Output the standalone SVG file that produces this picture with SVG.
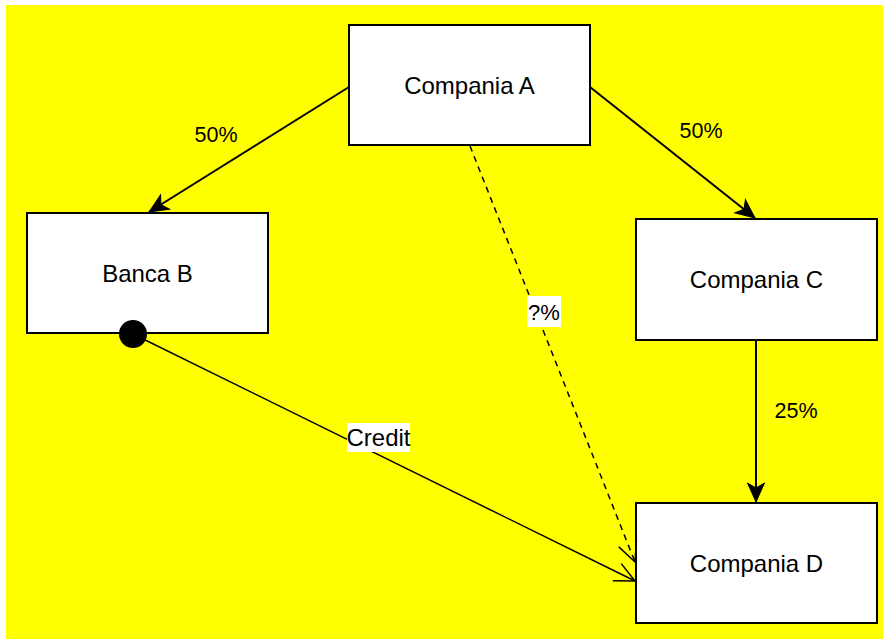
<svg xmlns="http://www.w3.org/2000/svg" width="883" height="639" viewBox="0 0 883 639">
<style>
.box{fill:#fff;stroke:#000;stroke-width:2}
.lbl{font-family:"Liberation Sans",Arial,sans-serif;font-size:24px;fill:#000;text-anchor:middle;dominant-baseline:central}
.elbl{font-family:"Liberation Sans",Arial,sans-serif;font-size:21.5px;fill:#000;text-anchor:middle;dominant-baseline:central}
.edge{fill:none;stroke:#000;stroke-width:2}
.thin{fill:none;stroke:#000;stroke-width:1.5}
</style>
<defs>
<marker id="block" markerUnits="userSpaceOnUse" viewBox="-20 -10 22 20" refX="0" refY="0" markerWidth="22" markerHeight="20" orient="auto" overflow="visible">
<path d="M0,0 L-19,-8.5 L-14,0 L-19,8.5 Z" fill="#000" stroke="#000" stroke-width="1"/>
</marker>
<marker id="open" markerUnits="userSpaceOnUse" viewBox="-24 -12 26 24" refX="0" refY="0" markerWidth="26" markerHeight="24" orient="auto" overflow="visible">
<path d="M-20,-9.5 L0,0 L-20,9.5" fill="none" stroke="#000" stroke-width="1.5"/>
</marker>
</defs>
<rect x="6" y="5" width="877" height="634" fill="#ffff00"/>
<g id="companiaA"><rect class="box" x="349" y="25" width="241" height="120"/><text class="lbl" x="469.5" y="85">Compania A</text></g>
<g id="bancaB"><rect class="box" x="27" y="213" width="241" height="120"/><text class="lbl" x="147.5" y="273">Banca B</text></g>
<g id="companiaC"><rect class="box" x="636" y="219" width="241" height="121"/><text class="lbl" x="756.5" y="279">Compania C</text></g>
<g id="companiaD"><rect class="box" x="636" y="503" width="241" height="120"/><text class="lbl" x="756.5" y="563">Compania D</text></g>
<g id="connectors">
<path class="edge" d="M349,87 L149,212" marker-end="url(#block)"/>
<path class="edge" d="M590,87 L755,218" marker-end="url(#block)"/>
<path class="edge" d="M756,340 L756,502" marker-end="url(#block)"/>
<path class="thin" d="M470,146 L635,562" stroke-dasharray="6,5" marker-end="url(#open)"/>
<path class="thin" d="M133,334 L635,581" marker-end="url(#open)"/>
<circle cx="133" cy="334" r="14" fill="#000"/>
<text class="elbl" x="216" y="135">50%</text>
<text class="elbl" x="701" y="131">50%</text>
<text class="elbl" x="796" y="411">25%</text>
<rect x="527" y="296" width="34" height="31" fill="#fff"/>
<text class="elbl" x="544" y="312" style="font-size:22px">?%</text>
<rect x="347" y="423" width="63" height="29" fill="#fff"/>
<text class="elbl" x="378.5" y="437.5" style="font-size:24px">Credit</text>
</g>
</svg>
